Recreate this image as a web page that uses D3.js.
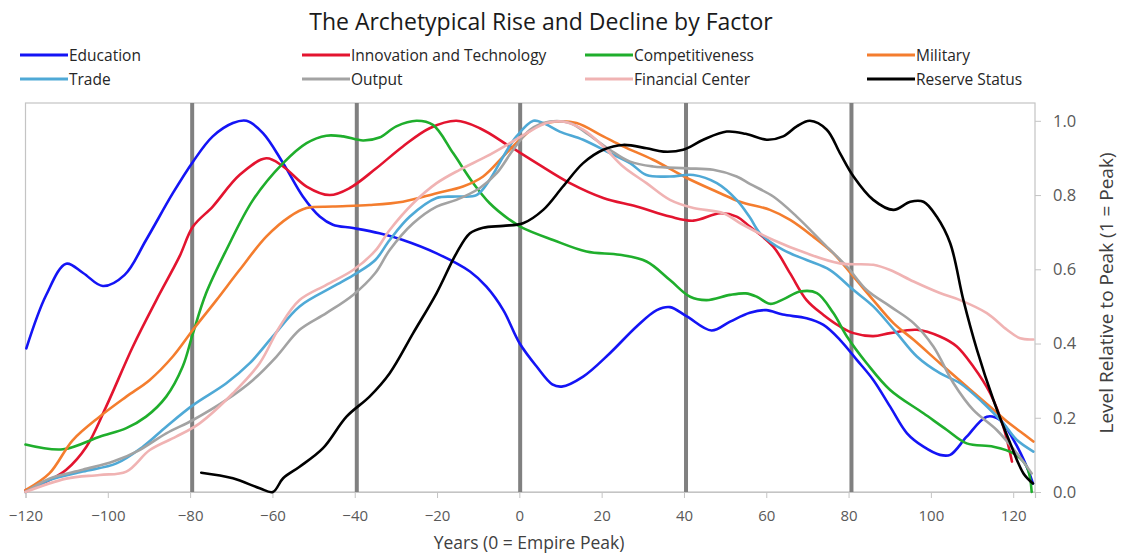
<!DOCTYPE html>
<html><head><meta charset="utf-8">
<script src="https://cdn.jsdelivr.net/npm/d3@7/dist/d3.min.js"></script>
<style>body{margin:0;background:#fff}svg{display:block}text{font-family:"Open Sans",sans-serif}</style>
</head><body><svg id="c" width="1121" height="556"></svg>
<script>
const title = "The Archetypical Rise and Decline by Factor";
const xLabel = "Years (0 = Empire Peak)";
const yLabel = "Level Relative to Peak (1 = Peak)";
const xTicks = [-120,-100,-80,-60,-40,-20,0,20,40,60,80,100,120];
const yTicks = [0,0.2,0.4,0.6,0.8,1.0];
const markerYears = [-79.5,-39.5,0.2,40.5,80.7];
const seriesNames = ["Education","Innovation and Technology","Competitiveness","Military","Trade","Output","Financial Center","Reserve Status"];
const seriesColors = ["#1414f5","#e3142f","#1fae2c","#f47d2e","#4fa9d6","#a3a3a3","#f0b3b3","#000000"];

const education = [[-119.8,0.387],[-115,0.53],[-110.1,0.615],[-106,0.59],[-101.2,0.555],[-95.9,0.585],[-90.7,0.679],[-84.2,0.805],[-79.3,0.89],[-74.5,0.958],[-69.6,0.994],[-66.3,1.0],[-62.3,0.967],[-57.4,0.886],[-52.6,0.796],[-48.5,0.742],[-45.3,0.72],[-40.4,0.711],[-34,0.697],[-28.3,0.679],[-20.1,0.643],[-12,0.594],[-8,0.553],[-3.9,0.49],[0.1,0.40],[4.2,0.338],[8,0.29],[10.3,0.284],[15.5,0.311],[22,0.374],[28.5,0.446],[33.4,0.49],[36.6,0.498],[40.7,0.473],[46.7,0.435],[51.2,0.459],[56,0.483],[60,0.49],[64,0.478],[69.8,0.468],[73.9,0.45],[77.9,0.41],[82,0.356],[86,0.302],[90.1,0.23],[94.2,0.158],[98.2,0.122],[102.2,0.10],[104.7,0.10],[108.7,0.149],[113.6,0.203],[116.8,0.194],[120.1,0.14],[123.3,0.068],[124.8,0.023]];
const innovation = [[-120,0.005],[-114.2,0.032],[-110.1,0.06],[-105.2,0.122],[-100.4,0.23],[-93.9,0.392],[-88.2,0.517],[-82.6,0.634],[-79.3,0.715],[-74.5,0.769],[-68,0.854],[-61.5,0.899],[-57.4,0.877],[-51.7,0.823],[-46.1,0.80],[-41.2,0.819],[-35,0.87],[-28.3,0.931],[-21.8,0.98],[-15.3,1.0],[-9.6,0.98],[-2.3,0.931],[4.2,0.886],[12.3,0.832],[20.4,0.792],[28.5,0.769],[36.6,0.742],[42.3,0.731],[48.8,0.751],[52.8,0.742],[56,0.715],[61.7,0.661],[65.8,0.589],[69.8,0.517],[73.9,0.477],[77.9,0.446],[81.2,0.428],[86,0.42],[90.1,0.428],[96.6,0.437],[102.2,0.419],[106.3,0.392],[110.3,0.338],[114.4,0.266],[117.6,0.176],[119.7,0.082]];
const competitiveness = [[-120,0.128],[-110.9,0.115],[-102,0.149],[-95.5,0.172],[-90.7,0.203],[-85.8,0.257],[-81.8,0.338],[-79.3,0.428],[-76.1,0.536],[-71.2,0.652],[-64.7,0.787],[-57.4,0.886],[-51.7,0.94],[-46.9,0.96],[-42.8,0.958],[-38,0.947],[-34,0.955],[-29.9,0.985],[-25,1.0],[-21,0.989],[-16.1,0.913],[-11.2,0.832],[-7.2,0.778],[-2.3,0.733],[0.9,0.711],[8.2,0.679],[16.3,0.648],[24.4,0.639],[30.9,0.621],[36.6,0.571],[41.5,0.526],[45.5,0.517],[51.2,0.531],[55,0.535],[57.7,0.526],[60.9,0.507],[64.1,0.519],[68.2,0.54],[72.3,0.536],[76.3,0.482],[79.6,0.419],[84.4,0.347],[90.1,0.275],[98.2,0.212],[103.9,0.167],[108.7,0.131],[115.2,0.122],[120.1,0.104],[123.3,0.068],[124.5,0.0]];
const military = [[-120,0.005],[-114.2,0.05],[-108.5,0.14],[-102,0.203],[-95.5,0.257],[-89.8,0.302],[-84.2,0.365],[-79.3,0.437],[-73.6,0.517],[-68,0.598],[-61.5,0.688],[-55.8,0.742],[-51.7,0.765],[-45.3,0.769],[-36.4,0.773],[-28.3,0.782],[-20.1,0.805],[-13.7,0.823],[-8.8,0.85],[-3.9,0.904],[0.1,0.949],[4.2,0.985],[9,0.998],[13.9,0.994],[20.4,0.958],[25.2,0.931],[32.5,0.895],[40.7,0.846],[48.8,0.805],[53.6,0.782],[60.9,0.76],[65.8,0.733],[71.4,0.688],[76.3,0.643],[81.2,0.58],[86,0.517],[90.9,0.455],[95.8,0.41],[102.2,0.347],[108.7,0.284],[114.4,0.23],[118.5,0.19],[121.7,0.163],[124.9,0.136]];
const trade = [[-120,0],[-114.2,0.032],[-106.1,0.055],[-97.9,0.077],[-91.5,0.122],[-85.8,0.176],[-79.3,0.234],[-71.2,0.293],[-65.5,0.347],[-59.9,0.419],[-53.4,0.5],[-45.3,0.553],[-39.6,0.589],[-35,0.625],[-31.5,0.679],[-26.6,0.742],[-20.1,0.792],[-15.3,0.796],[-10.4,0.80],[-7.2,0.841],[-3.9,0.904],[-0.7,0.958],[3.4,1.0],[5.8,0.994],[9.8,0.971],[15.5,0.949],[22,0.913],[26.9,0.886],[30.9,0.854],[36.6,0.85],[42.3,0.854],[48,0.832],[52.8,0.787],[56,0.74],[58.5,0.697],[64.1,0.652],[69.8,0.625],[75.5,0.598],[81.2,0.544],[86,0.5],[91.7,0.428],[96.6,0.365],[102.2,0.32],[107.1,0.293],[112.8,0.239],[117.6,0.185],[120.9,0.14],[124.9,0.109]];
const output = [[-120,0],[-114.2,0.036],[-106.1,0.06],[-98.7,0.082],[-92.3,0.113],[-85.8,0.158],[-79.3,0.194],[-71.2,0.248],[-64.7,0.302],[-59,0.365],[-53.4,0.437],[-46.9,0.482],[-40.4,0.531],[-35,0.59],[-31.5,0.652],[-25.8,0.724],[-20.1,0.769],[-15.3,0.787],[-9.6,0.819],[-5.5,0.859],[-1.5,0.922],[2.6,0.976],[7.4,0.998],[12.3,0.994],[16.3,0.967],[22,0.922],[26.9,0.89],[32.5,0.877],[40.7,0.872],[47.1,0.868],[52.8,0.85],[56,0.83],[61.7,0.796],[67.4,0.742],[73.9,0.67],[79.6,0.607],[84.4,0.544],[90.1,0.5],[95.8,0.455],[100.6,0.392],[105.5,0.293],[110.3,0.221],[116,0.167],[120.9,0.104],[124.5,0.05]];
const financial = [[-120,0],[-110.1,0.036],[-102,0.046],[-95.5,0.055],[-89.8,0.113],[-83.4,0.149],[-77.7,0.185],[-69.6,0.266],[-63.1,0.347],[-58.2,0.446],[-53.4,0.517],[-46.9,0.558],[-40.4,0.598],[-35,0.65],[-31.5,0.706],[-25.8,0.778],[-20.1,0.832],[-14.5,0.868],[-8,0.904],[-2.3,0.94],[1.8,0.967],[6.6,0.994],[10.6,0.998],[15.5,0.976],[20.4,0.931],[25.2,0.877],[30.9,0.832],[36.6,0.787],[42.3,0.765],[49.6,0.751],[54,0.722],[61.7,0.679],[69.8,0.643],[77.9,0.616],[86,0.612],[90.1,0.598],[95.8,0.567],[102.2,0.536],[107.1,0.517],[113.6,0.482],[118.5,0.437],[121.7,0.414],[124.9,0.411]];
const reserve = [[-77.3,0.052],[-69.6,0.037],[-63.1,0.01],[-59.9,0.0],[-57.4,0.037],[-53.4,0.068],[-47.7,0.118],[-42,0.203],[-36.4,0.257],[-31.5,0.32],[-25.8,0.428],[-20.1,0.536],[-15.3,0.643],[-12,0.697],[-8.8,0.712],[-3.9,0.717],[0.9,0.724],[5.8,0.76],[10.6,0.823],[15.5,0.886],[20.4,0.922],[25.2,0.935],[30.9,0.926],[35,0.917],[39.8,0.922],[44.7,0.949],[50.4,0.971],[55,0.965],[60.1,0.949],[64.1,0.958],[67.4,0.985],[70.6,1.0],[74.7,0.976],[77.9,0.913],[81.2,0.85],[86,0.787],[90.9,0.76],[95,0.782],[98.2,0.782],[101.4,0.742],[104.7,0.67],[107.9,0.517],[111.2,0.383],[115.2,0.248],[119.3,0.131],[122.5,0.05],[124.8,0.023]];
const seriesData = [education, innovation, competitiveness, military, trade, output, financial, reserve];

const svg = d3.select("#c");
svg.append("rect").attr("width",1121).attr("height",556).attr("fill","#fff");
const L = 25.5, R = 1035, T = 103, B = 492;
const x = d3.scaleLinear().domain([-120, 125.3]).range([L, R]);
const y = d3.scaleLinear().domain([0, 1.048]).range([B, T]);

// frame
svg.append("rect").attr("x",L).attr("y",T).attr("width",R-L).attr("height",B-T)
  .attr("fill","none").attr("stroke","#c4c4c4").attr("stroke-width",1.2);

// marker lines
svg.append("g").selectAll("line").data(markerYears).join("line")
  .attr("x1",d=>x(d)).attr("x2",d=>x(d)).attr("y1",T).attr("y2",B)
  .attr("stroke","#808080").attr("stroke-width",4);

// x axis
const xa = svg.append("g").attr("transform",`translate(0,${B})`)
  .call(d3.axisBottom(x).tickValues(xTicks).tickSize(6).tickPadding(12).tickFormat(d3.format("d")));
xa.select(".domain").attr("stroke","#c4c4c4").attr("stroke-width",1.2);
xa.selectAll(".tick line").attr("stroke","#c4c4c4");
xa.selectAll("text").attr("fill","#595959").style("font-size","15px").style("font-family","Open Sans");

// y axis right
const ya = svg.append("g").attr("transform",`translate(${R},0)`)
  .call(d3.axisRight(y).tickValues(yTicks).tickSize(6).tickPadding(12).tickFormat(d3.format(".1f")));
ya.select(".domain").remove();
ya.selectAll(".tick line").attr("stroke","#c4c4c4");
ya.selectAll("text").attr("fill","#595959").style("font-size","16.5px").style("font-family","Open Sans");

// lines
const line = d3.line().x(d=>x(d[0])).y(d=>y(d[1])).curve(d3.curveCatmullRom.alpha(0.5));
svg.append("g").selectAll("path").data(seriesData).join("path")
  .attr("d",line).attr("fill","none")
  .attr("stroke",(d,i)=>seriesColors[i]).attr("stroke-width",2.6)
  .attr("stroke-linejoin","round").attr("stroke-linecap","round");

// titles
svg.append("text").attr("x",541).attr("y",30).attr("text-anchor","middle")
  .style("font-size","23px").attr("fill","#1a1a1a").text(title);
svg.append("text").attr("x",529).attr("y",549).attr("text-anchor","middle")
  .style("font-size","17.5px").attr("fill","#404040").text(xLabel);
svg.append("text").attr("transform","translate(1113,293) rotate(-90)").attr("text-anchor","middle")
  .style("font-size","19px").attr("fill","#404040").text(yLabel);

// legend
const legX = [20, 302, 585, 867];
const legY = [55, 79];
const lg = svg.append("g").selectAll("g").data(seriesNames).join("g")
  .attr("transform",(d,i)=>`translate(${legX[i%4]},${legY[Math.floor(i/4)]})`);
lg.append("line").attr("x1",0).attr("x2",48).attr("stroke",(d,i)=>seriesColors[i]).attr("stroke-width",3);
lg.append("text").attr("x",49).attr("y",5.5).style("font-size","15.5px").attr("fill","#262626").text(d=>d);
</script></body></html>
